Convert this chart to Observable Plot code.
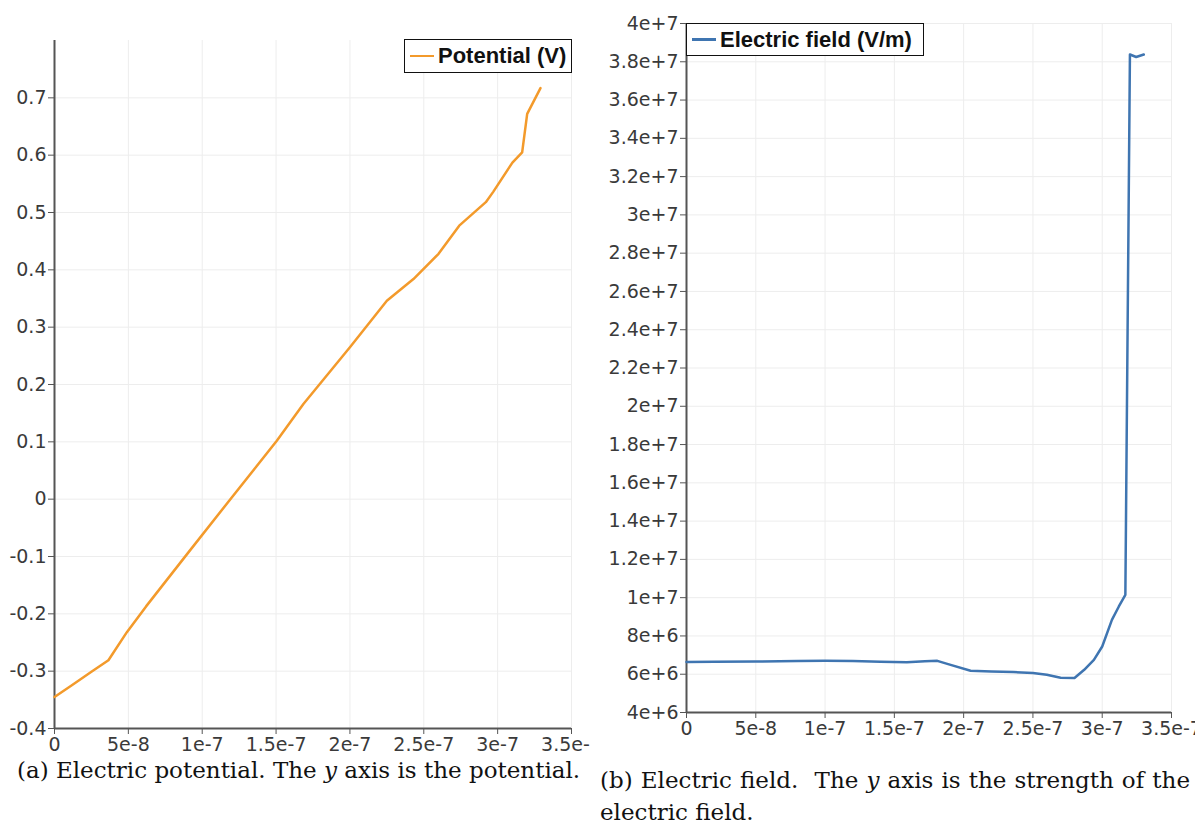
<!DOCTYPE html>
<html>
<head>
<meta charset="utf-8">
<script src="https://cdn.jsdelivr.net/npm/d3@7"></script>
<script src="https://cdn.jsdelivr.net/npm/@observablehq/plot@0.6"></script>
<style>
  html, body { margin: 0; padding: 0; background: #fff; }
  #page { position: relative; width: 1195px; height: 824px; overflow: hidden; }
  .chart { position: absolute; top: 0; }
  .legend { position: absolute; box-sizing: border-box; border: 1.5px solid #111; background: #fff;
            font-family: "Liberation Sans", Arial, sans-serif; font-weight: bold; font-size: 22px; color: #111;
            display: flex; align-items: center; white-space: nowrap; }
  .legend .swatch { display: inline-block; width: 24px; height: 2.5px; margin: 0 4px 0 5px; }
  .cap { position: absolute; font-family: "DejaVu Serif", serif; font-size: 23px; color: #111; white-space: nowrap; line-height: 32px; }
  .cap i { font-style: italic; }
  .just { text-align: justify; text-align-last: justify; width: 590px; white-space: normal; }
</style>
</head>
<body>
<div id="page">
  <div id="left" class="chart" style="left:0px"></div>
  <div id="right" class="chart" style="left:590px"></div>
  <div class="legend" style="left:404px; top:39px; width:168px; height:34px;"><span class="swatch" style="background:#f39a2b"></span>Potential (V)</div>
  <div class="legend" style="left:686px; top:23px; width:238px; height:33px;"><span class="swatch" style="background:#3f75b1"></span>Electric field (V/m)</div>
  <div class="cap" style="left:17px; top:754px;">(a) Electric potential. The <i>y</i> axis is the potential.</div>
  <div class="cap" style="left:600px; top:764px;">
    <div class="just">(b) Electric field. &nbsp;The <i>y</i> axis is the strength of the</div>
    <div>electric field.</div>
  </div>
</div>
<script>
// ---- Data: electric potential (V) vs position (m)
const potX = [0, 1.2e-8, 2.5e-8, 3.65e-8, 4.9e-8, 6.2e-8, 9e-8, 1.2e-7, 1.505e-7, 1.685e-7, 2.0e-7, 2.25e-7, 2.43e-7, 2.6e-7, 2.74e-7, 2.92e-7, 2.97e-7, 3.1e-7, 3.166e-7, 3.2e-7, 3.29e-7];
const potV = [-0.345, -0.324, -0.301, -0.281, -0.232, -0.187, -0.095, 0.003, 0.102, 0.166, 0.265, 0.346, 0.384, 0.428, 0.477, 0.518, 0.536, 0.587, 0.605, 0.672, 0.717];

// ---- Data: electric field (V/m) vs position (m)
const efX = [0, 2e-8, 5e-8, 8e-8, 1e-7, 1.2e-7, 1.4e-7, 1.59e-7, 1.72e-7, 1.81e-7, 1.9e-7, 2.05e-7, 2.2e-7, 2.36e-7, 2.5e-7, 2.6e-7, 2.7e-7, 2.8e-7, 2.87e-7, 2.94e-7, 3.0e-7, 3.07e-7, 3.12e-7, 3.167e-7, 3.2e-7, 3.245e-7, 3.3e-7];
const efV = [6.64e6, 6.65e6, 6.66e6, 6.69e6, 6.70e6, 6.69e6, 6.65e6, 6.62e6, 6.68e6, 6.70e6, 6.50e6, 6.18e6, 6.14e6, 6.11e6, 6.06e6, 5.97e6, 5.82e6, 5.80e6, 6.23e6, 6.75e6, 7.45e6, 8.84e6, 9.54e6, 1.015e7, 3.838e7, 3.825e7, 3.838e7];

// ---- Ticks
const xTicks = [0, 5e-8, 1e-7, 1.5e-7, 2e-7, 2.5e-7, 3e-7, 3.5e-7];
const xTickLabels = ["0", "5e-8", "1e-7", "1.5e-7", "2e-7", "2.5e-7", "3e-7", "3.5e-7"];
const potTicks = [-0.4, -0.3, -0.2, -0.1, 0, 0.1, 0.2, 0.3, 0.4, 0.5, 0.6, 0.7];
const potTickLabels = ["-0.4", "-0.3", "-0.2", "-0.1", "0", "0.1", "0.2", "0.3", "0.4", "0.5", "0.6", "0.7"];
const efTicks = [4e6, 6e6, 8e6, 1e7, 1.2e7, 1.4e7, 1.6e7, 1.8e7, 2e7, 2.2e7, 2.4e7, 2.6e7, 2.8e7, 3e7, 3.2e7, 3.4e7, 3.6e7, 3.8e7, 4e7];
const efTickLabels = ["4e+6", "6e+6", "8e+6", "1e+7", "1.2e+7", "1.4e+7", "1.6e+7", "1.8e+7", "2e+7", "2.2e+7", "2.4e+7", "2.6e+7", "2.8e+7", "3e+7", "3.2e+7", "3.4e+7", "3.6e+7", "3.8e+7", "4e+7"];

const potData = potX.map((x, i) => ({x, v: potV[i]}));
const efData = efX.map((x, i) => ({x, v: efV[i]}));

const lab = (ticks, labels) => d => labels[ticks.findIndex(t => Math.abs(t - d) < 1e-15 * Math.max(1, Math.abs(t)) || t === d)];

const baseStyle = {fontFamily: "DejaVu Sans, sans-serif", fontSize: "19px", color: "#3a3a3a", background: "transparent", overflow: "hidden"};
const gridColor = "#ededed";
const axisColor = "#555";

const left = Plot.plot({
  width: 590, height: 760,
  marginLeft: 54, marginRight: 19, marginTop: 40, marginBottom: 32,
  style: baseStyle,
  x: {domain: [0, 3.5e-7]},
  y: {domain: [-0.4, 0.8]},
  marks: [
    Plot.gridX(xTicks, {stroke: gridColor, strokeOpacity: 1}),
    Plot.gridY(potTicks, {stroke: gridColor, strokeOpacity: 1}),
    Plot.ruleX([0], {stroke: axisColor, strokeWidth: 2}),
    Plot.ruleY([-0.4], {stroke: axisColor, strokeWidth: 2}),
    Plot.axisX({ticks: xTicks, tickFormat: lab(xTicks, xTickLabels), tickSize: 6, tickPadding: 3, label: null, fontSize: 19, stroke: axisColor}),
    Plot.axisY({ticks: potTicks, tickFormat: lab(potTicks, potTickLabels), tickSize: 6, tickPadding: 2, label: null, fontSize: 19, stroke: axisColor}),
    Plot.line(potData, {x: "x", y: "v", stroke: "#f39a2b", strokeWidth: 2.5})
  ]
});
document.getElementById("left").appendChild(left);

const right = Plot.plot({
  width: 605, height: 745,
  marginLeft: 96, marginRight: 24, marginTop: 23, marginBottom: 33,
  style: baseStyle,
  x: {domain: [0, 3.5e-7]},
  y: {domain: [4e6, 4e7]},
  marks: [
    Plot.gridX(xTicks, {stroke: gridColor, strokeOpacity: 1}),
    Plot.gridY(efTicks, {stroke: gridColor, strokeOpacity: 1}),
    Plot.ruleX([0], {stroke: axisColor, strokeWidth: 2}),
    Plot.ruleY([4e6], {stroke: axisColor, strokeWidth: 2}),
    Plot.axisX({ticks: xTicks, tickFormat: lab(xTicks, xTickLabels), tickSize: 6, tickPadding: 3, label: null, fontSize: 19, stroke: axisColor}),
    Plot.axisY({ticks: efTicks, tickFormat: lab(efTicks, efTickLabels), tickSize: 6, tickPadding: 2, label: null, fontSize: 19, stroke: axisColor}),
    Plot.line(efData, {x: "x", y: "v", stroke: "#3f75b1", strokeWidth: 2.5})
  ]
});
document.getElementById("right").appendChild(right);
</script>
</body>
</html>
